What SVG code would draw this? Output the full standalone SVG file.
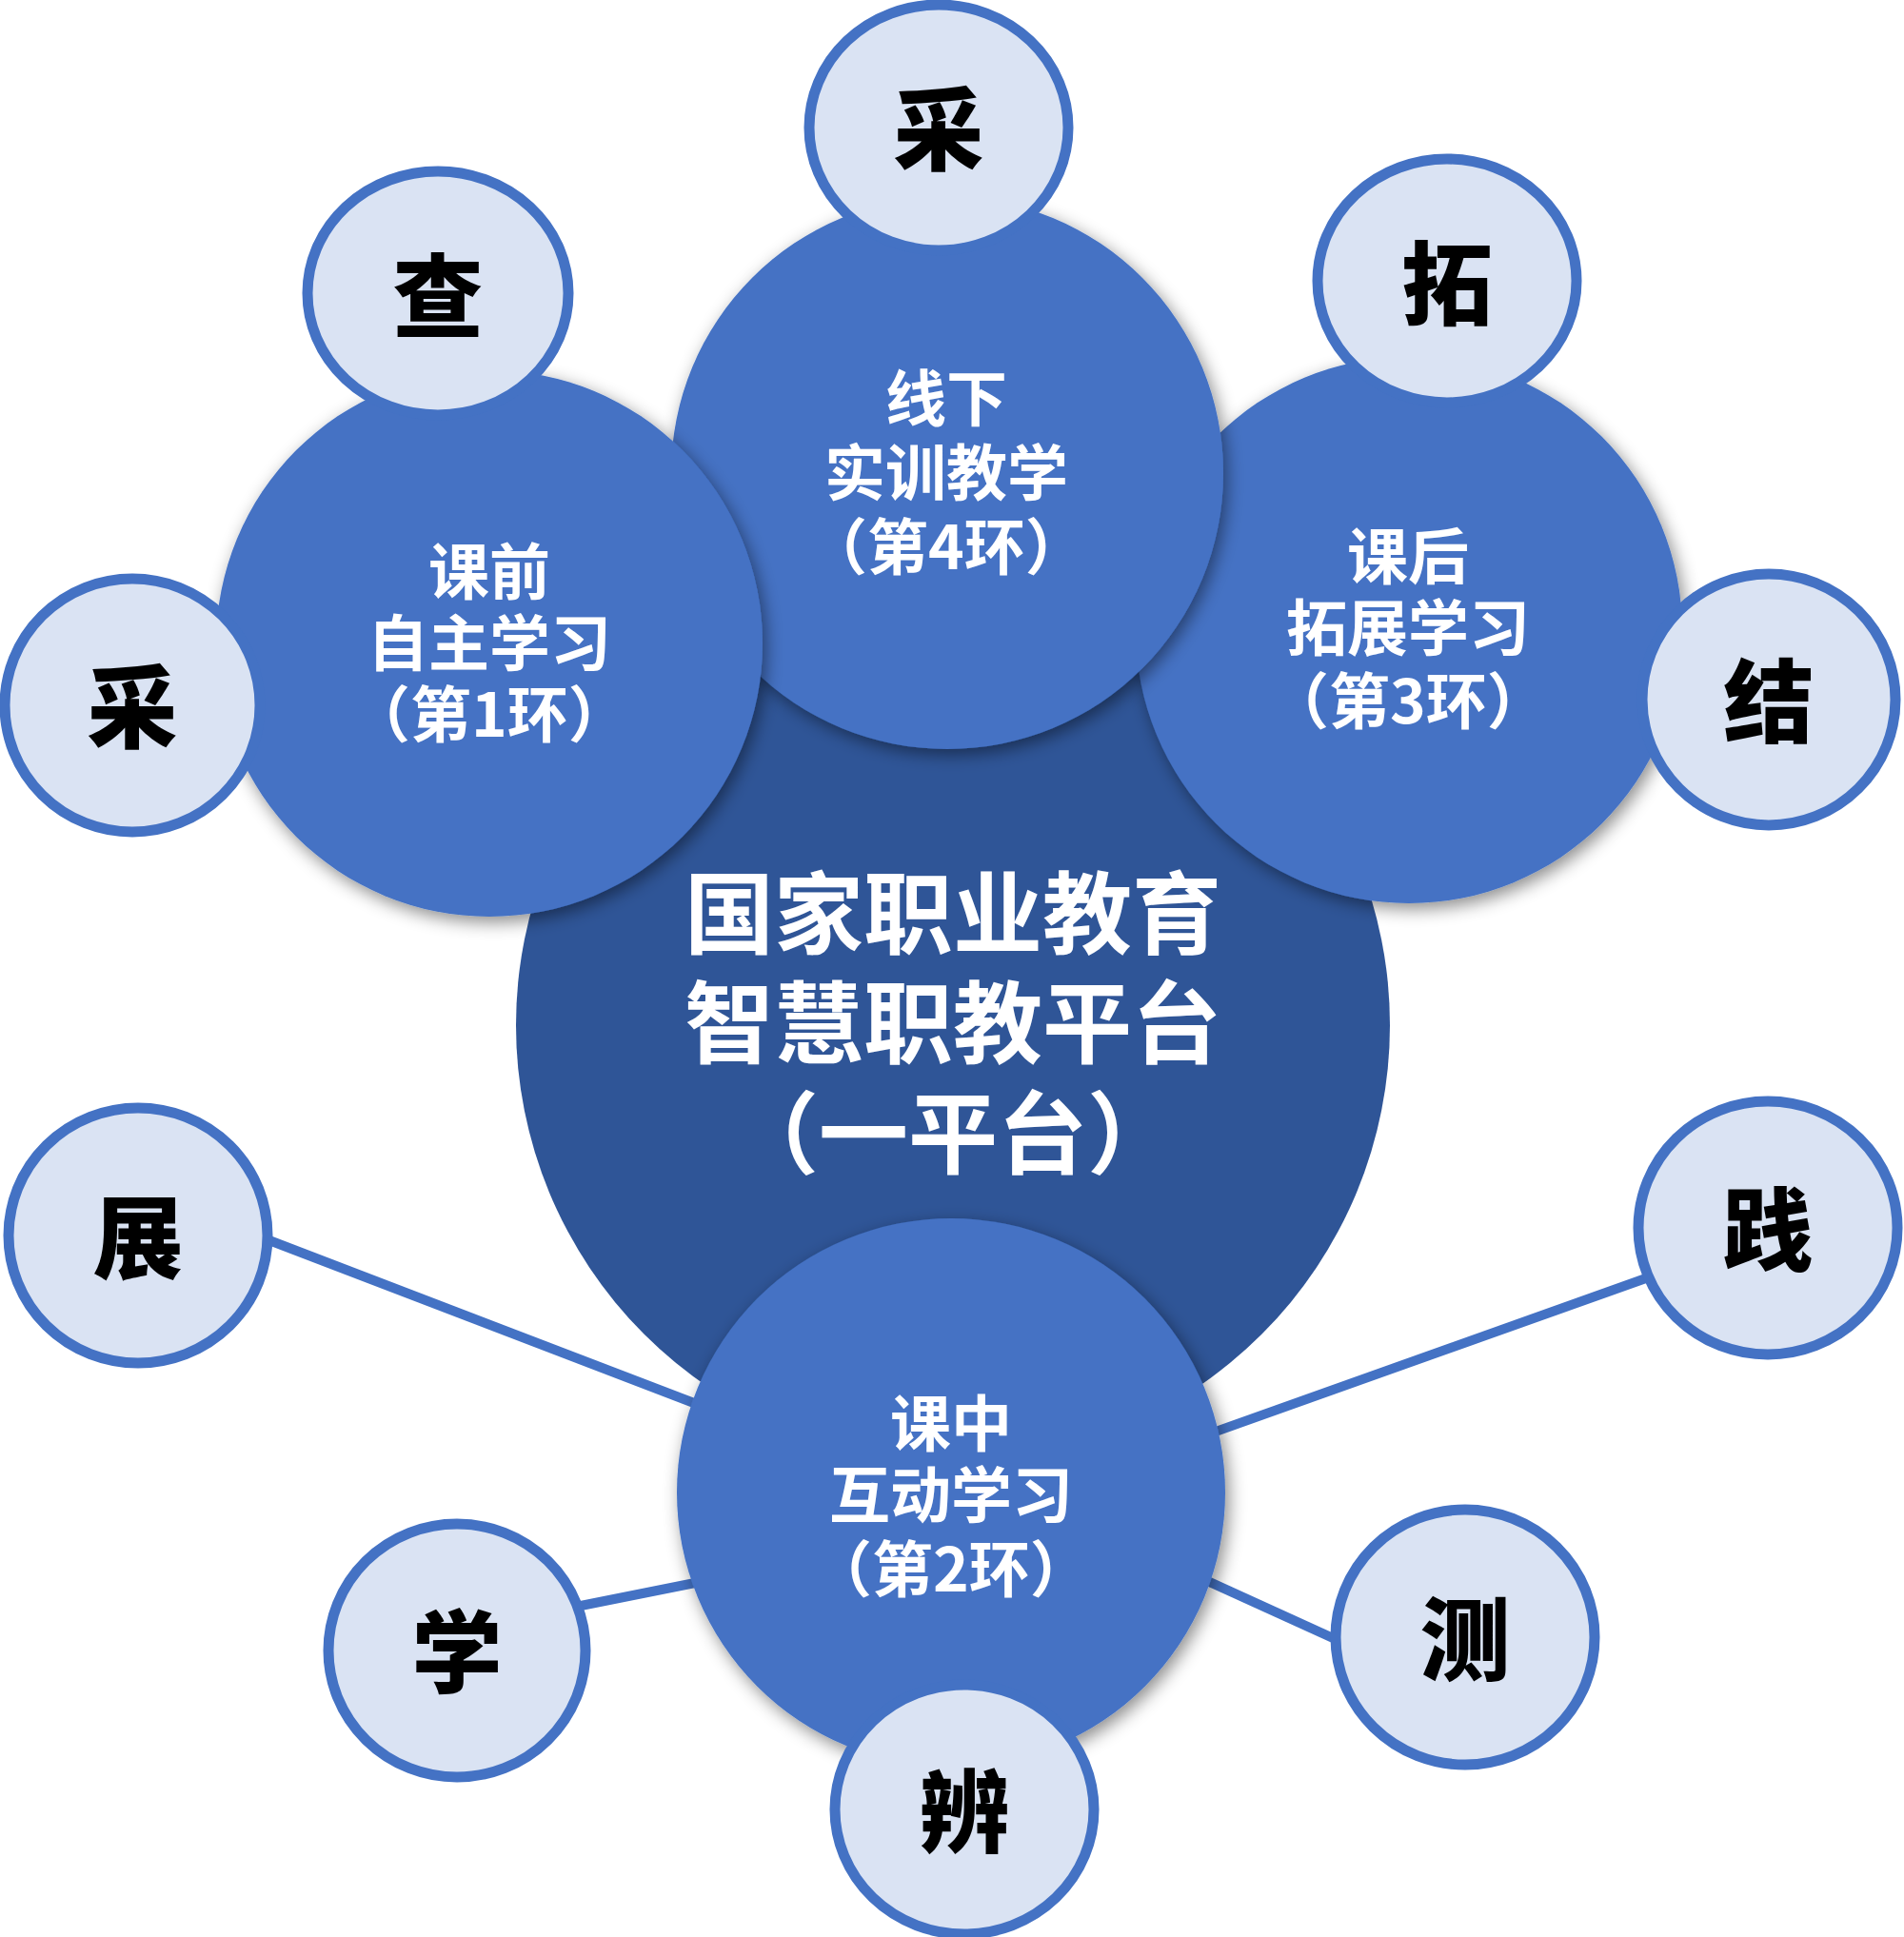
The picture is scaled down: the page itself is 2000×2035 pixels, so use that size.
<svg xmlns="http://www.w3.org/2000/svg" width="2000" height="2035" viewBox="0 0 2000 2035">
<defs>
<filter id="sh" x="-20%" y="-20%" width="140%" height="140%">
<feDropShadow dx="4" dy="6" stdDeviation="9" flood-color="#000" flood-opacity="0.45"/>
</filter>
<style>
.big{fill:#4472C4;filter:url(#sh);}
.core{fill:#2F5597;}
.small{fill:#DAE3F3;stroke:#4472C4;stroke-width:11;}
.conn{stroke:#4472C4;stroke-width:10;fill:none;}
.wt{fill:#FFFFFF;font-family:"Noto Sans CJK SC","Noto Sans",sans-serif;font-weight:bold;font-size:64px;text-anchor:middle;}
.ct{fill:#FFFFFF;font-family:"Noto Sans CJK SC","Noto Sans",sans-serif;font-weight:bold;font-size:94px;text-anchor:middle;}
.bt{fill:#000000;font-family:"Noto Sans CJK SC",sans-serif;font-weight:900;font-size:95px;text-anchor:middle;}
</style>
</defs>
<rect width="2000" height="2035" fill="#FFFFFF"/>

<g id="connectors">
<line class="conn" x1="267" y1="1297" x2="755" y2="1484"/>
<line class="conn" x1="600" y1="1689" x2="750" y2="1659"/>
<line class="conn" x1="1740" y1="1339" x2="1260" y2="1510"/>
<line class="conn" x1="1255" y1="1655" x2="1420" y2="1730"/>
</g>

<g id="platform">
<circle class="core" cx="1001" cy="1077" r="459"/>
<text class="ct" x="1001" y="995">国家职业教育<tspan x="1001" dy="115">智慧职教平台</tspan><tspan x="1001" dy="116">（一平台）</tspan></text>
</g>

<g id="after-class">
<circle class="big" cx="1480" cy="662" r="287"/>
<text class="wt" x="1479" y="608">课后<tspan x="1479" dy="75">拓展学习</tspan><tspan x="1479" dy="77">（第3环）</tspan></text>
</g>

<g id="offline">
<circle class="big" cx="995" cy="497" r="290"/>
<text class="wt" x="994" y="442">线下<tspan x="994" dy="78">实训教学</tspan><tspan x="994" dy="78">（第4环）</tspan></text>
</g>

<g id="pre-class">
<circle class="big" cx="514" cy="676" r="287"/>
<text class="wt" x="514" y="624">课前<tspan x="514" dy="75">自主学习</tspan><tspan x="514" dy="75">（第1环）</tspan></text>
</g>

<g id="in-class">
<circle class="big" cx="999" cy="1568" r="288"/>
<text class="wt" x="999" y="1519">课中<tspan x="999" dy="75">互动学习</tspan><tspan x="999" dy="78">（第2环）</tspan></text>
</g>

<g id="n-cai-top"><ellipse class="small" cx="986" cy="134" rx="136" ry="129"/><text class="bt" x="986" y="172">采</text></g>
<g id="n-cha"><ellipse class="small" cx="460" cy="308" rx="137" ry="128"/><text class="bt" x="460" y="347">查</text></g>
<g id="n-tuo"><ellipse class="small" cx="1520" cy="295" rx="136" ry="128"/><text class="bt" x="1520" y="334">拓</text></g>
<g id="n-cai-left"><ellipse class="small" cx="139" cy="741" rx="134" ry="133"/><text class="bt" x="139" y="779">采</text></g>
<g id="n-jie"><ellipse class="small" cx="1858" cy="735" rx="133" ry="132"/><text class="bt" x="1858" y="773">结</text></g>
<g id="n-zhan"><ellipse class="small" cx="145" cy="1298" rx="136" ry="134"/><text class="bt" x="145" y="1336">展</text></g>
<g id="n-jian"><ellipse class="small" cx="1857" cy="1290" rx="136" ry="133"/><text class="bt" x="1857" y="1328">践</text></g>
<g id="n-xue"><ellipse class="small" cx="480" cy="1734" rx="135" ry="133"/><text class="bt" x="480" y="1772">学</text></g>
<g id="n-ce"><ellipse class="small" cx="1539" cy="1720" rx="136" ry="134"/><text class="bt" x="1539" y="1758">测</text></g>
<g id="n-bian"><ellipse class="small" cx="1013" cy="1901" rx="136" ry="131"/><text class="bt" x="1013" y="1939">辨</text></g>
</svg>
